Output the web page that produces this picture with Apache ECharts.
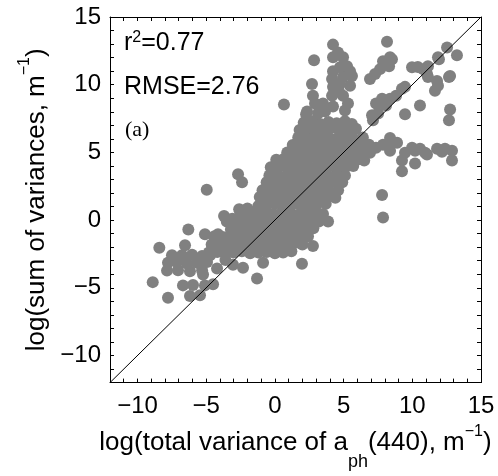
<!DOCTYPE html>
<html>
<head>
<meta charset="utf-8">
<script src="https://cdn.jsdelivr.net/npm/echarts@6/dist/echarts.min.js"></script>
<style>
  html, body { margin: 0; padding: 0; background: #fff; }
  #main { width: 498px; height: 476px; }
</style>
</head>
<body>
<div id="main"></div>
<script>
// axis range and tick labels (both axes the same)
var axisMin = -12;
var axisMax = 15;
var tickLabels = [-10, -5, 0, 5, 10, 15];

// 1:1 line
var diagX = [-12, 15];
var diagY = [-12, 15];

// lower left group
var lowerLeft = [
  [-4.96, 2.24], [-6.30, -0.70], [-5.09, -1.04], [-8.41, -2.04], [-6.54, -1.86],
  [-7.49, -2.6], [-6.76, -2.6], [-6.03, -2.55], [-5.30, -2.65], [-4.72, -2.6],
  [-7.78, -3.15], [-7.12, -3.1], [-6.40, -3.2], [-5.67, -3.15], [-4.94, -3.1],
  [-7.85, -3.73], [-7.05, -3.7], [-6.18, -3.78], [-5.30, -3.7],
  [-8.89, -4.58], [-6.69, -4.82], [-5.96, -4.8], [-5.23, -4.02], [-4.5, -4.74],
  [-7.78, -5.74], [-6.18, -5.61], [-5.45, -5.55], [-5.09, -4.82],
  [-4.21, -3.58], [-3.05, -3.29], [-3.6, -2.95], [-4.14, -1.04], [-2.32, -3.51],
  [-0.86, -3.15], [-1.30, -4.31], [1.97, -3.22]
];

// dense main body along the 1:1 line
var mainBody = [
  [2.1, 7.2], [2.7, 7.3], [3.3, 7.1], [3.9, 7.25], [4.5, 7.15], [5.1, 7.3], [5.6, 7.1],
  [1.8, 6.65], [2.3, 6.75], [2.9, 6.6], [3.5, 6.7], [4.1, 6.8], [4.7, 6.6], [5.3, 6.7], [5.9, 6.75],
  [1.7, 6.1], [2.1, 6.15], [2.7, 6.05], [3.3, 6.2], [3.9, 6.1], [4.5, 6.0], [5.1, 6.15], [5.7, 6.05], [6.4, 6.1],
  [1.3, 5.55], [1.8, 5.65], [2.4, 5.5], [3.0, 5.6], [3.6, 5.7], [4.2, 5.55], [4.8, 5.6], [5.4, 5.5], [6.0, 5.65], [6.6, 5.55],
  [0.9, 5.0], [1.5, 5.1], [2.1, 4.95], [2.7, 5.05], [3.3, 5.0], [3.9, 5.1], [4.5, 4.95], [5.1, 5.0], [5.7, 5.1], [6.3, 4.95],
  [0.1, 4.45], [0.7, 4.55], [1.3, 4.4], [1.9, 4.5], [2.5, 4.6], [3.1, 4.45], [3.7, 4.5], [4.3, 4.4], [4.9, 4.55], [5.5, 4.45], [6.1, 4.5], [6.5, 4.4],
  [-0.3, 3.9], [0.3, 3.95], [0.9, 3.85], [1.5, 3.9], [2.1, 4.0], [2.7, 3.85], [3.3, 3.9], [3.9, 3.95], [4.5, 3.85], [5.1, 3.9], [5.7, 4.0],
  [-0.4, 3.3], [0.2, 3.35], [0.8, 3.25], [1.4, 3.3], [2.0, 3.4], [2.6, 3.25], [3.2, 3.3], [3.8, 3.35], [4.4, 3.25], [5.1, 3.3],
  [-0.6, 2.8], [0.0, 2.75], [0.6, 2.85], [1.2, 2.8], [1.8, 2.7], [2.4, 2.85], [3.0, 2.8], [3.6, 2.75], [4.2, 2.85], [4.9, 2.8],
  [-0.9, 2.2], [-0.3, 2.25], [0.3, 2.15], [0.9, 2.2], [1.5, 2.3], [2.1, 2.15], [2.7, 2.2], [3.3, 2.25], [3.9, 2.15], [4.6, 2.2],
  [-1.1, 1.7], [-0.4, 1.75], [0.2, 1.6], [0.8, 1.7], [1.4, 1.75], [2.0, 1.65], [2.6, 1.7], [3.2, 1.6], [3.8, 1.75], [4.4, 1.65],
  [-2.6, 0.8], [-2.0, 0.85], [-1.2, 1.05], [-0.6, 1.1], [0.0, 1.2], [0.6, 1.05], [1.2, 1.1], [1.8, 1.15], [2.4, 1.05], [3.0, 1.1], [3.7, 1.2],
  [-3.7, 0.3], [-3.1, 0.1], [-2.5, 0.5], [-1.9, 0.4], [-1.3, 0.55], [-0.7, 0.5], [-0.1, 0.45], [0.5, 0.55], [1.1, 0.5], [1.7, 0.4], [2.3, 0.55], [2.9, 0.5], [3.5, 0.45],
  [-3.5, -0.1], [-2.9, -0.05], [-2.3, -0.15], [-1.7, -0.1], [-1.1, 0.0], [-0.5, -0.15], [0.1, -0.1], [0.7, -0.05], [1.3, -0.15], [1.9, -0.1], [2.5, 0.0], [3.2, -0.1],
  [-3.2, -0.7], [-2.6, -0.65], [-2.0, -0.75], [-1.4, -0.7], [-0.8, -0.6], [-0.2, -0.75], [0.4, -0.7], [1.0, -0.65], [1.6, -0.75], [2.2, -0.7], [2.8, -0.6],
  [-4.4, -1.2], [-3.8, -1.25], [-3.2, -1.15], [-2.6, -1.2], [-2.0, -1.3], [-1.4, -1.15], [-0.8, -1.2], [-0.2, -1.25], [0.4, -1.15], [1.0, -1.2], [1.6, -1.3], [2.3, -1.2],
  [-4.6, -1.8], [-4.0, -1.75], [-3.4, -1.85], [-2.8, -1.8], [-2.2, -1.7], [-1.6, -1.85], [-1.0, -1.8], [-0.4, -1.75], [0.2, -1.85], [0.8, -1.8], [1.4, -1.7], [2.0, -1.8],
  [-4.8, -2.4], [-4.2, -2.35], [-3.6, -2.45], [-3.0, -2.4], [-2.4, -2.3], [-1.8, -2.45], [-1.2, -2.4], [-0.6, -2.35], [0.0, -2.45], [0.6, -2.4], [1.2, -2.3]
];

// group above the main body (x 2..6, y 8..13) and stray points on its left
var upperGroup = [
  [4.23, 12.96], [4.59, 12.38], [4.23, 12.02], [4.96, 12.02], [4.74, 11.29], [5.25, 11.37], [5.47, 11.0],
  [4.23, 11.0], [4.16, 10.42], [4.96, 10.57], [5.61, 10.64], [4.74, 10.06], [5.47, 9.92], [2.85, 11.80],
  [2.70, 10.06], [4.30, 9.70], [4.67, 9.48], [4.23, 9.84], [4.16, 9.19], [4.96, 9.19], [5.32, 8.61],
  [5.10, 8.10], [4.23, 8.39], [3.50, 8.61], [2.77, 9.19], [2.92, 8.61], [2.34, 8.03], [3.14, 7.88],
  [3.65, 8.03], [0.66, 8.54], [2.27, 7.81], [-2.68, 3.38], [-2.39, 2.80]
];

// points right of the line at the top (x 7..13, y 7..13)
var upperRight = [
  [8.16, 13.18], [8.38, 12.02], [7.87, 11.73], [8.52, 11.88], [8.31, 11.37], [7.65, 11.15], [7.29, 10.79], [6.92, 10.42],
  [8.38, 8.97], [7.87, 8.61], [7.51, 7.88], [7.14, 7.38], [8.82, 9.19], [9.25, 9.70], [7.36, 8.61], [7.80, 8.97],
  [8.09, 8.46], [7.07, 7.74], [9.98, 11.29], [11.14, 11.37], [11.07, 10.79], [10.78, 11.15], [11.87, 12.02],
  [12.53, 12.75], [13.25, 12.17], [11.14, 10.57], [11.80, 10.28], [11.87, 9.92], [11.65, 9.55], [12.75, 10.64],
  [9.47, 9.84], [10.56, 8.46], [9.47, 7.81], [12.75, 8.17], [12.67, 7.38], [11.94, 11.88], [12.67, 10.57], [10.4, 11.3]
];

// band near y = 5 and stray points right of the line
var rightBand = [
  [8.38, 6.07], [8.89, 5.71], [6.85, 5.56], [7.36, 5.34], [7.87, 5.56], [8.45, 5.85], [9.47, 4.98], [10.20, 5.13],
  [10.93, 4.98], [9.25, 4.40], [10.20, 4.18], [11.07, 4.84], [12.16, 5.05], [12.89, 5.13], [12.89, 4.40], [9.25, 3.60],
  [9.98, 5.34], [10.56, 5.27], [11.80, 5.27], [12.38, 5.27], [6.92, 4.98], [8.38, 5.13],
  [7.80, 1.86], [7.87, 0.19], [3.87, -0.10], [2.77, -1.91], [1.83, -1.70], [2.41, -1.19]
];

var allPoints = lowerLeft.concat(mainBody, upperGroup, upperRight, rightBand);

var myChart = echarts.init(document.getElementById('main'));
var font = 'Liberation Sans';

function tickFmt(v) {
  if (tickLabels.indexOf(v) < 0) return '';
  return String(v).replace('-', '\u2212');
}

// n: main text, sup/sub placed with top/bottom alignment and a box height
var titleRich = {
  n: { fontFamily: font, fontSize: 26, color: '#000', lineHeight: 60 },
  sup: { fontFamily: font, fontSize: 16, color: '#000', height: 37, verticalAlign: 'top' },
  sub: { fontFamily: font, fontSize: 18, color: '#000', height: 22, verticalAlign: 'bottom' }
};

var baseAxis = {
  type: 'value',
  min: axisMin,
  max: axisMax,
  interval: 1,
  splitLine: { show: false },
  axisLine: { show: true, onZero: false, lineStyle: { color: '#000', width: 1 } },
  axisTick: { show: true, inside: true, length: 4, lineStyle: { color: '#000' } }
};

var option = {
  animation: false,
  grid: { left: 110, right: 17, top: 17, bottom: 87 },
  xAxis: [
    Object.assign({}, baseAxis, {
      position: 'bottom',
      axisLabel: { formatter: tickFmt, fontFamily: font, fontSize: 24, color: '#000', margin: 12 },
      name: '{n|log(total variance of a}{sub|ph}{n|(440), m}{sup|\u22121}{n|)}',
      nameLocation: 'middle',
      nameGap: 24,
      nameTextStyle: { rich: titleRich }
    }),
    Object.assign({}, baseAxis, { position: 'top', axisLabel: { show: false } })
  ],
  yAxis: [
    Object.assign({}, baseAxis, {
      position: 'left',
      axisLabel: { formatter: tickFmt, fontFamily: font, fontSize: 24, color: '#000', margin: 9 },
      name: '{n|log(sum of variances, m}{sup|\u22121}{n|)}',
      nameLocation: 'middle',
      nameRotate: 90,
      nameGap: 42,
      nameTextStyle: { rich: titleRich }
    }),
    Object.assign({}, baseAxis, { position: 'right', axisLabel: { show: false } })
  ],
  graphic: [
    {
      type: 'text', left: 124, top: 30, z: 10,
      style: {
        text: '{n|r}{sup|2}{n|=0.77}',
        rich: {
          n: { fontFamily: font, fontSize: 25, color: '#000', lineHeight: 40 },
          sup: { fontFamily: font, fontSize: 16, color: '#000', height: 30, verticalAlign: 'top' }
        }
      }
    },
    {
      type: 'text', left: 124, top: 75, z: 10,
      style: { text: 'RMSE=2.76', font: '25px "Liberation Sans"', fill: '#000' }
    },
    {
      type: 'text', left: 125, top: 119, z: 10,
      style: { text: '(a)', font: '22px "Liberation Serif"', fill: '#000' }
    }
  ],
  series: [
    {
      type: 'scatter',
      data: allPoints,
      symbolSize: 12,
      itemStyle: { color: '#808080', opacity: 1 },
      z: 2
    },
    {
      type: 'line',
      data: [[diagX[0], diagY[0]], [diagX[1], diagY[1]]],
      symbol: 'none',
      lineStyle: { color: '#000', width: 1 },
      z: 3
    }
  ]
};
myChart.setOption(option);
</script>
</body>
</html>
